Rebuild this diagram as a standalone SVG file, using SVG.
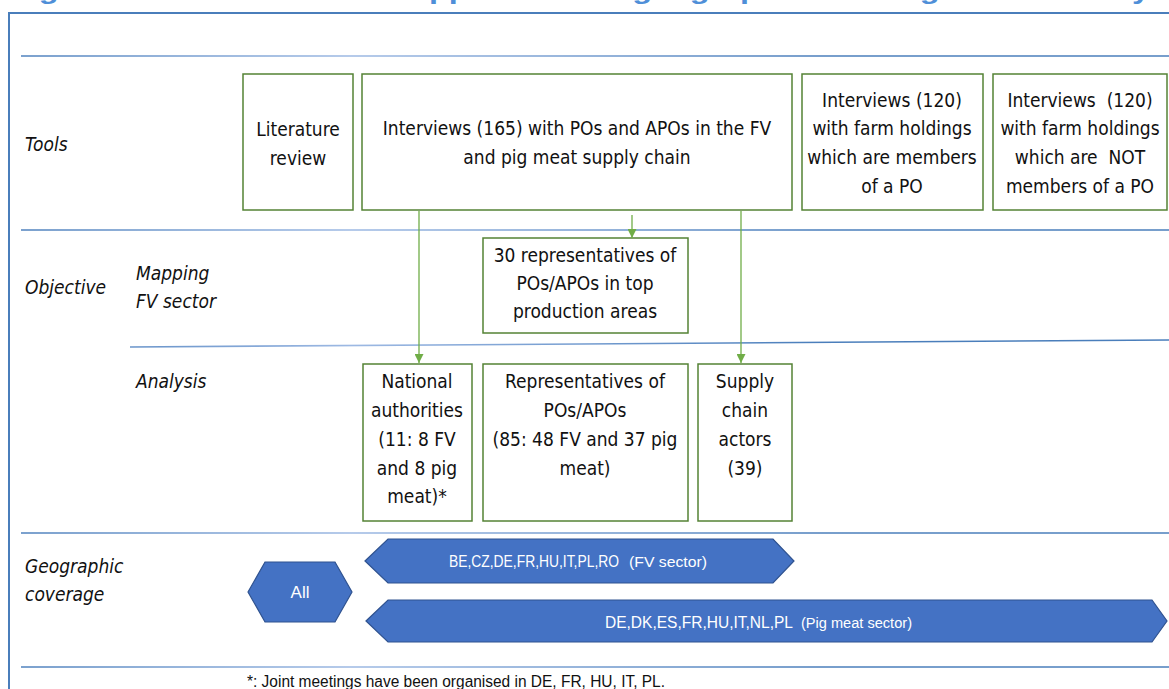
<svg xmlns="http://www.w3.org/2000/svg" width="1169" height="689" viewBox="0 0 1169 689">
<style>
.box{fill:#ffffff;stroke:#548235;stroke-width:1.5}
.bt{font-family:"DejaVu Sans Condensed","DejaVu Sans",sans-serif;font-stretch:condensed;font-size:19px;fill:#111;text-anchor:middle;white-space:pre}
.lab{font-family:"DejaVu Sans Condensed","DejaVu Sans",sans-serif;font-stretch:condensed;font-style:italic;font-size:19px;fill:#111}
.sep{stroke:url(#sg);stroke-width:1.6;fill:none}
.frame{stroke:#4a7ebb;stroke-width:2;fill:none}
.hex{fill:#4472c4;stroke:#2f528f;stroke-width:1.2}
.ht{font-family:"Liberation Sans",Arial,sans-serif;fill:#ffffff;font-size:17px}
.hs{font-family:"Liberation Sans",Arial,sans-serif;fill:#ffffff;font-size:15.5px}
.conn{stroke:#70ad47;stroke-width:1.3;fill:none}
</style>
<defs>
<linearGradient id="sg" x1="0" y1="0" x2="1169" y2="0" gradientUnits="userSpaceOnUse">
<stop offset="0" stop-color="#4a7ebb"/>
<stop offset="0.3" stop-color="#9db9e3"/>
<stop offset="0.7" stop-color="#4a7ebb"/>
<stop offset="1" stop-color="#4a7ebb"/>
</linearGradient>
<marker id="ah" viewBox="0 0 10 10" refX="10" refY="5" markerWidth="9" markerHeight="9" markerUnits="userSpaceOnUse" orient="auto">
<path d="M0,0 L10,5 L0,10 z" fill="#70ad47"/>
</marker>
</defs>
<rect width="1169" height="689" fill="#ffffff"/>
<text x="10" y="-1" font-family="'Liberation Sans',Arial,sans-serif" font-weight="bold" font-size="24" fill="#4f8fd8" textLength="1140" lengthAdjust="spacingAndGlyphs">Figure 1 – Data collection approach and geographic coverage of the study</text>
<path class="frame" d="M9,689 L9,13 L1169,13"/>
<g id="separators">
<line class="sep" x1="21" y1="56" x2="1169" y2="56"/>
<line class="sep" x1="21" y1="230" x2="1169" y2="230"/>
<line class="sep" x1="130" y1="347" x2="1169" y2="340"/>
<line class="sep" x1="21" y1="533" x2="1169" y2="533"/>
<line class="sep" x1="21" y1="667" x2="1169" y2="667"/>
</g>
<g id="row-labels">
<text class="lab" x="25" y="151">Tools</text>
<text class="lab" x="25" y="294">Objective</text>
<text class="lab" x="136" y="280">Mapping</text>
<text class="lab" x="136" y="308">FV sector</text>
<text class="lab" x="136" y="388">Analysis</text>
<text class="lab" x="25" y="573">Geographic</text>
<text class="lab" x="25" y="601">coverage</text>
</g>
<g id="literature">
<rect class="box" x="243" y="74" width="110" height="136"/>
<text class="bt" x="298" y="136">Literature</text>
<text class="bt" x="298" y="165">review</text>
</g>
<g id="interviews165">
<rect class="box" x="362" y="74" width="430" height="136"/>
<text class="bt" x="577" y="135">Interviews (165) with POs and APOs in the FV</text>
<text class="bt" x="577" y="164">and pig meat supply chain</text>
</g>
<g id="interviews-members">
<rect class="box" x="802" y="74" width="181" height="136"/>
<text class="bt" x="892" y="107">Interviews (120)</text>
<text class="bt" x="892" y="135">with farm holdings</text>
<text class="bt" x="892" y="164">which are members</text>
<text class="bt" x="892" y="193">of a PO</text>
</g>
<g id="interviews-nonmembers">
<rect class="box" x="993" y="74" width="174" height="136"/>
<text class="bt" x="1080" y="107">Interviews  (120)</text>
<text class="bt" x="1080" y="135">with farm holdings</text>
<text class="bt" x="1080" y="164">which are  NOT</text>
<text class="bt" x="1080" y="193">members of a PO</text>
</g>
<g id="mapping-reps">
<rect class="box" x="483" y="238" width="205" height="95"/>
<text class="bt" x="585" y="262">30 representatives of</text>
<text class="bt" x="585" y="290">POs/APOs in top</text>
<text class="bt" x="585" y="318">production areas</text>
</g>
<g id="national">
<rect class="box" x="363" y="364" width="109" height="157"/>
<text class="bt" x="417" y="388">National</text>
<text class="bt" x="417" y="417">authorities</text>
<text class="bt" x="417" y="446">(11: 8 FV</text>
<text class="bt" x="417" y="475">and 8 pig</text>
<text class="bt" x="417" y="503">meat)*</text>
</g>
<g id="representatives">
<rect class="box" x="483" y="364" width="205" height="157"/>
<text class="bt" x="585" y="388">Representatives of</text>
<text class="bt" x="585" y="417">POs/APOs</text>
<text class="bt" x="585" y="446">(85: 48 FV and 37 pig</text>
<text class="bt" x="585" y="475">meat)</text>
</g>
<g id="supply">
<rect class="box" x="698" y="364" width="94" height="157"/>
<text class="bt" x="745" y="388">Supply</text>
<text class="bt" x="745" y="417">chain</text>
<text class="bt" x="745" y="446">actors</text>
<text class="bt" x="745" y="475">(39)</text>
</g>
<g id="connectors">
<line class="conn" x1="419" y1="211" x2="419" y2="363" marker-end="url(#ah)"/>
<line class="conn" x1="632" y1="215" x2="632" y2="238" marker-end="url(#ah)"/>
<line class="conn" x1="741" y1="211" x2="741" y2="363" marker-end="url(#ah)"/>
</g>
<g id="all">
<polygon class="hex" points="248,592 265,562 335,562 352,592 335,622 265,622"/>
<text class="ht" x="300" y="598" text-anchor="middle">All</text>
</g>
<g id="fv-sector">
<polygon class="hex" points="365,561 388,539 773,539 794,561 773,583 388,583"/>
<text class="ht" x="449" y="567" textLength="170" lengthAdjust="spacingAndGlyphs">BE,CZ,DE,FR,HU,IT,PL,RO</text>
<text class="hs" x="629" y="567" textLength="78" lengthAdjust="spacingAndGlyphs">(FV sector)</text>
</g>
<g id="pig-sector">
<polygon class="hex" points="366,621 388,600 1152,600 1167,621 1152,642 388,642"/>
<text class="ht" x="605" y="628" textLength="188" lengthAdjust="spacingAndGlyphs">DE,DK,ES,FR,HU,IT,NL,PL</text>
<text class="hs" x="801" y="628" textLength="111" lengthAdjust="spacingAndGlyphs">(Pig meat sector)</text>
</g>
<text x="247" y="687" font-family="'Liberation Sans',Arial,sans-serif" font-size="16" fill="#111" textLength="418" lengthAdjust="spacingAndGlyphs">*: Joint meetings have been organised in DE, FR, HU, IT, PL.</text>
</svg>
